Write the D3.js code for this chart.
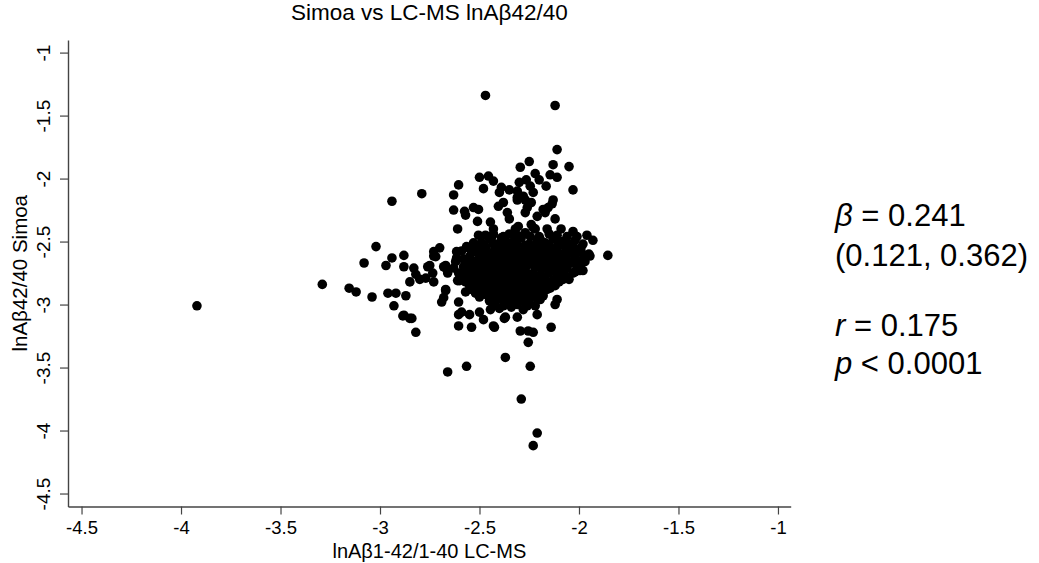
<!DOCTYPE html>
<html>
<head>
<meta charset="utf-8">
<script src="https://cdn.jsdelivr.net/npm/d3@7"></script>
<style>
  body { margin: 0; background: #fff; }
  svg { font-family: "Liberation Sans", Arial, Helvetica, sans-serif; }
</style>
</head>
<body>
<div id="chart"></div>
<script>
// LC-MS (x) and Simoa (y) values
const lcms = [
  -3.92, -3.29, -3.155, -3.12, -3.04, -2.96, -2.92, -2.93, -2.79, -2.94,
  -2.63, -2.63, -2.605, -2.61, -3.02, -3.08, -2.94, -2.88, -2.97, -2.88,
  -2.83, -2.82, -2.85, -2.80, -2.77, -2.76, -2.735, -2.73, -2.73, -2.70,
  -2.72, -2.68, -2.66, -2.62, -2.615, -2.605, -2.87, -2.88, -2.84, -2.82,
  -2.67, -2.68, -2.69, -2.605, -2.605, -2.605, -2.61, -2.47, -2.12, -2.11,
  -2.25, -2.295, -2.13, -2.05, -2.22, -2.145, -2.11, -2.50, -2.455, -2.43,
  -2.03, -2.48, -2.39, -2.35, -2.30, -2.265, -2.245, -2.20, -2.165, -2.31,
  -2.40, -2.23, -2.28, -2.575, -2.57, -2.53, -2.505, -2.51, -2.505, -2.445,
  -2.43, -2.405, -2.38, -2.36, -2.35, -2.31, -2.27, -2.24, -2.26, -2.305,
  -2.32, -2.24, -2.22, -2.21, -2.17, -2.155, -2.135, -2.12, -2.16, -2.09,
  -2.03, -1.96, -1.93, -1.855, -1.945, -1.99, -1.995, -2.73, -2.75, -2.67,
  -2.615, -2.59, -2.555, -2.53, -2.50, -2.31, -2.27, -2.18, -2.13, -2.23,
  -2.44, -2.39, -2.35, -2.245, -2.195, -2.01, -2.665, -2.615, -2.565, -2.53,
  -2.63, -2.57, -2.53, -2.48, -2.67, -2.59, -2.54, -2.55, -2.50, -2.48,
  -2.43, -2.445, -2.37, -2.31, -2.295, -2.255, -2.23, -2.255, -2.21, -2.22,
  -2.14, -2.12, -2.11, -2.195, -2.31, -2.27, -2.37, -2.57, -2.53, -2.60,
  -2.03, -1.98, -2.08, -2.145, -2.18, -2.66, -2.565, -2.37, -2.245, -2.29,
  -2.21, -2.23, -2.375, -2.425, -2.85, -2.885,
  // dense core
  -2.49, -2.45, -2.41, -2.37, -2.33, -2.29, -2.25, -2.21, -2.17, -2.13, -2.09, -2.05, -2.02,
  -2.52, -2.47, -2.43, -2.39, -2.35, -2.31, -2.27, -2.23, -2.19, -2.15, -2.11, -2.07, -2.03, -1.99,
  -2.55, -2.50, -2.46, -2.42, -2.38, -2.34, -2.30, -2.26, -2.22, -2.18, -2.14, -2.10, -2.06, -2.02, -1.97,
  -2.56, -2.52, -2.48, -2.44, -2.40, -2.36, -2.32, -2.28, -2.24, -2.20, -2.16, -2.12, -2.08, -2.04, -2.00, -1.97,
  -2.55, -2.51, -2.47, -2.43, -2.39, -2.35, -2.31, -2.27, -2.23, -2.19, -2.15, -2.11, -2.07, -2.02,
  -2.57, -2.53, -2.49, -2.45, -2.41, -2.37, -2.33, -2.29, -2.25, -2.21, -2.17, -2.13, -2.09, -2.05,
  -2.55, -2.50, -2.46, -2.42, -2.38, -2.34, -2.30, -2.26, -2.22, -2.18, -2.12,
  -2.52, -2.47, -2.43, -2.39, -2.35, -2.31, -2.27, -2.23, -2.19,
  -2.45, -2.41, -2.33, -2.29, -2.25,
  -2.40, -2.34, -2.28,
  -2.47, -2.43, -2.38, -2.31, -2.27, -2.20, -2.15, -2.11, -2.06,
  -2.51, -2.47, -2.43, -2.39, -2.35, -2.31, -2.27, -2.23, -2.19, -2.15, -2.11, -2.07, -2.03, -1.98,
  -2.54, -2.49, -2.45, -2.41, -2.37, -2.33, -2.29, -2.25, -2.21, -2.17, -2.13, -2.09, -2.05, -2.01, -1.95,
  -2.58, -2.54, -2.50, -2.46, -2.42, -2.38, -2.34, -2.30, -2.26, -2.22, -2.18, -2.14, -2.10, -2.06, -2.02, -1.98,
  -2.58, -2.54, -2.50, -2.46, -2.42, -2.38, -2.34, -2.30, -2.26, -2.22, -2.18, -2.14, -2.10, -2.06, -2.01,
  -2.59, -2.55, -2.51, -2.47, -2.43, -2.39, -2.35, -2.31, -2.27, -2.23, -2.19, -2.15, -2.11, -2.07,
  -2.57, -2.52, -2.48, -2.44, -2.40, -2.36, -2.32, -2.28, -2.24, -2.20, -2.16, -2.10,
  -2.54, -2.49, -2.45, -2.41, -2.37, -2.33, -2.29, -2.25, -2.21, -2.16,
  -2.50, -2.45, -2.41, -2.37, -2.33, -2.29, -2.25, -2.21,
  -2.43, -2.38, -2.35, -2.31, -2.26
];
const simoa = [
  -3.01, -2.84, -2.87, -2.90, -2.94, -2.91, -2.91, -3.01, -2.12, -2.18,
  -2.13, -2.25, -2.05, -2.40, -2.54, -2.67, -2.63, -2.61, -2.69, -2.70,
  -2.71, -2.76, -2.82, -2.80, -2.79, -2.70, -2.75, -2.82, -2.58, -2.55,
  -2.62, -2.70, -2.75, -2.66, -2.58, -2.75, -2.93, -3.085, -3.11, -3.22,
  -2.89, -2.945, -2.98, -2.98, -3.08, -3.17, -2.81, -1.34, -1.42, -1.77,
  -1.865, -1.91, -1.89, -1.905, -1.96, -1.97, -1.99, -1.99, -1.98, -2.02,
  -2.09, -2.08, -2.07, -2.09, -2.03, -2.01, -2.06, -2.01, -2.06, -2.10,
  -2.11, -2.11, -2.14, -2.26, -2.29, -2.23, -2.245, -2.34, -2.45, -2.345,
  -2.40, -2.22, -2.19, -2.27, -2.32, -2.17, -2.17, -2.19, -2.23, -2.38,
  -2.40, -2.365, -2.40, -2.30, -2.27, -2.23, -2.20, -2.32, -2.40, -2.40,
  -2.42, -2.45, -2.49, -2.61, -2.615, -2.55, -2.73, -2.615, -2.69, -2.69,
  -2.64, -2.575, -2.55, -2.52, -2.59, -2.15, -2.27, -2.245, -2.17, -2.39,
  -2.47, -2.47, -2.44, -2.46, -2.48, -2.46, -2.72, -2.63, -2.54, -2.51,
  -2.71, -2.73, -2.72, -2.55, -2.88, -3.06, -3.18, -3.08, -3.06, -3.12,
  -3.17, -3.04, -3.10, -3.10, -3.21, -3.21, -3.22, -3.30, -3.08, -3.01,
  -3.18, -3.00, -2.96, -2.96, -2.98, -2.98, -2.98, -2.90, -2.84, -2.81,
  -2.75, -2.73, -2.80, -2.87, -2.93, -3.535, -3.49, -3.42, -3.49, -3.75,
  -4.02, -4.12, -3.11, -3.18, -3.11, -3.09,
  // dense core
  -2.51, -2.48, -2.52, -2.49, -2.50, -2.47, -2.52, -2.49, -2.51, -2.48, -2.50, -2.52, -2.49,
  -2.57, -2.55, -2.58, -2.56, -2.54, -2.57, -2.55, -2.58, -2.56, -2.55, -2.57, -2.54, -2.56, -2.58,
  -2.62, -2.60, -2.63, -2.61, -2.62, -2.60, -2.63, -2.61, -2.60, -2.62, -2.61, -2.63, -2.60, -2.62, -2.61,
  -2.68, -2.66, -2.69, -2.67, -2.66, -2.68, -2.67, -2.69, -2.66, -2.68, -2.67, -2.66, -2.69, -2.67, -2.68, -2.66,
  -2.73, -2.74, -2.72, -2.75, -2.73, -2.72, -2.74, -2.73, -2.75, -2.72, -2.74, -2.73, -2.72, -2.74,
  -2.79, -2.80, -2.78, -2.80, -2.79, -2.78, -2.81, -2.79, -2.80, -2.78, -2.79, -2.81, -2.78, -2.80,
  -2.85, -2.86, -2.84, -2.86, -2.85, -2.84, -2.86, -2.85, -2.84, -2.86, -2.85,
  -2.91, -2.92, -2.90, -2.91, -2.92, -2.90, -2.91, -2.92, -2.90,
  -2.97, -2.96, -2.98, -2.96, -2.97,
  -3.03, -3.02, -3.04,
  -2.45, -2.44, -2.46, -2.45, -2.43, -2.46, -2.44, -2.45, -2.46,
  -2.53, -2.54, -2.52, -2.53, -2.54, -2.52, -2.53, -2.54, -2.52, -2.53, -2.54, -2.52, -2.53, -2.52,
  -2.59, -2.58, -2.60, -2.59, -2.58, -2.60, -2.59, -2.58, -2.60, -2.59, -2.58, -2.60, -2.59, -2.58, -2.60,
  -2.64, -2.65, -2.63, -2.64, -2.65, -2.63, -2.64, -2.65, -2.63, -2.64, -2.65, -2.63, -2.64, -2.65, -2.63, -2.64,
  -2.70, -2.71, -2.69, -2.70, -2.71, -2.69, -2.70, -2.71, -2.69, -2.70, -2.71, -2.69, -2.70, -2.71, -2.70,
  -2.76, -2.77, -2.75, -2.76, -2.77, -2.75, -2.76, -2.77, -2.75, -2.76, -2.77, -2.75, -2.76, -2.77,
  -2.82, -2.83, -2.81, -2.82, -2.83, -2.81, -2.82, -2.83, -2.81, -2.82, -2.83, -2.82,
  -2.88, -2.89, -2.87, -2.88, -2.89, -2.87, -2.88, -2.89, -2.87, -2.88,
  -2.94, -2.95, -2.93, -2.94, -2.95, -2.93, -2.94, -2.95,
  -3.00, -3.01, -2.99, -3.00, -3.01
];

const xTicks = [-4.5, -4, -3.5, -3, -2.5, -2, -1.5, -1];
const yTicks = [-1, -1.5, -2, -2.5, -3, -3.5, -4, -4.5];

const titleText = "Simoa vs LC-MS lnAβ42/40";
const xTitle = "lnAβ1-42/1-40 LC-MS";
const yTitle = "lnAβ42/40 Simoa";

const width = 1039, height = 563;
const plot = { left: 68, right: 790.7, top: 40, bottom: 506.5 };

const svg = d3.select("#chart").append("svg")
  .attr("width", width)
  .attr("height", height);

const x = d3.scaleLinear().domain([-4.568, -0.936]).range([plot.left, plot.right]);
const y = d3.scaleLinear().domain([-4.603, -0.9]).range([plot.bottom, plot.top]);

const axisColor = "#444";
// plain hyphen for negatives, as in the original
const fmt = d => String(d);

// x axis
const gx = svg.append("g")
  .attr("transform", `translate(0,${plot.bottom})`)
  .call(d3.axisBottom(x).tickValues(xTicks).tickSize(8).tickPadding(6).tickSizeOuter(0)
    .tickFormat(fmt));
gx.select(".domain").attr("stroke", axisColor).attr("stroke-width", 1.4);
gx.selectAll(".tick line").attr("stroke", axisColor).attr("stroke-width", 1.2);
gx.selectAll(".tick text").attr("fill", "#000").style("font-size", "18.5px");

// y axis, labels turned upright like the original
const gy = svg.append("g")
  .attr("transform", `translate(${plot.left},0)`)
  .call(d3.axisLeft(y).tickValues(yTicks).tickSize(8).tickSizeOuter(0)
    .tickFormat(fmt));
gy.select(".domain").attr("stroke", axisColor).attr("stroke-width", 1.4);
gy.selectAll(".tick line").attr("stroke", axisColor).attr("stroke-width", 1.2);
gy.selectAll(".tick text")
  .attr("fill", "#000")
  .style("font-size", "19px")
  .attr("transform", "rotate(-90)")
  .attr("x", 0)
  .attr("y", -18)
  .attr("dy", 0)
  .style("text-anchor", "middle");

// points
const points = lcms.map((v, i) => ({ lcms: v, simoa: simoa[i] }));
svg.append("g")
  .selectAll("circle")
  .data(points)
  .join("circle")
  .attr("cx", d => x(d.lcms))
  .attr("cy", d => y(d.simoa))
  .attr("r", 4.8)
  .attr("fill", "#000");

// titles
svg.append("text")
  .attr("x", (plot.left + plot.right) / 2)
  .attr("y", 20)
  .attr("text-anchor", "middle")
  .style("font-size", "22.5px")
  .text(titleText);

svg.append("text")
  .attr("x", (plot.left + plot.right) / 2)
  .attr("y", 558)
  .attr("text-anchor", "middle")
  .style("font-size", "20px")
  .text(xTitle);

svg.append("text")
  .attr("transform", `translate(27,${(plot.top + plot.bottom) / 2}) rotate(-90)`)
  .attr("text-anchor", "middle")
  .style("font-size", "20.5px")
  .text(yTitle);

// stats annotation
const stats = [
  { sym: "β", rest: " = 0.241", y: 226 },
  { sym: "", rest: "(0.121, 0.362)", y: 266 },
  { sym: "r", rest: " = 0.175", y: 336 },
  { sym: "p", rest: " < 0.0001", y: 374 }
];
const ann = svg.append("g").style("font-size", "31px");
stats.forEach(s => {
  const t = ann.append("text").attr("x", 835).attr("y", s.y);
  if (s.sym) t.append("tspan").style("font-style", "italic").text(s.sym);
  t.append("tspan").text(s.rest);
});
</script>
</body>
</html>
